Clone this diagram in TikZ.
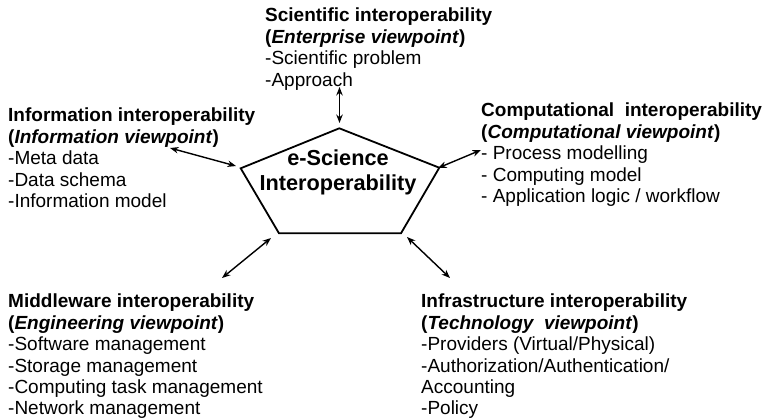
\documentclass[tikz,border=0pt]{standalone}
\usepackage{fontspec}
\setmainfont{Liberation Sans}
\usetikzlibrary{arrows.meta}
\begin{document}
\begin{tikzpicture}[x=1pt,y=1pt,
  blk/.style={anchor=north west,inner sep=0pt,align=left,font=\fontsize{19}{21.4}\selectfont},
  core/.style={anchor=north,inner sep=0pt,align=center,font=\fontsize{21.7}{25}\selectfont\bfseries},
  link/.style={line width=1.4pt,{Stealth[length=8.5pt,width=6.5pt]}-{Stealth[length=8.5pt,width=6.5pt]}},
  penta/.style={line width=1.8pt,line join=miter}]
\useasboundingbox (0,0) rectangle (771,-418);
% pentagon corners
\coordinate (pt) at (339.3,-128.3);
\coordinate (pl) at (240.7,-168.3);
\coordinate (pr) at (439.3,-167.7);
\coordinate (pbl) at (279,-233.3);
\coordinate (pbr) at (401,-233.3);
\draw[penta] (pt) -- (pr) -- (pbr) -- (pbl) -- (pl) -- cycle;
\node[core] (center) at (338,-150) {e-Science\\Interoperability};
% text blocks
\node[blk] (sci) at (265,-8) {\textbf{Scientific interoperability}\\\textbf{(\textit{Enterprise viewpoint})}\\-Scientific problem\\-Approach};
\node[blk] (info) at (8,-108) {\textbf{Information interoperability}\\\textbf{(\textit{Information viewpoint})}\\-Meta data\\-Data schema\\-Information model};
\node[blk] (comp) at (481,-103) {\textbf{Computational\ \ interoperability}\\\textbf{(\textit{Computational viewpoint})}\\- Process modelling\\- Computing model\\- Application logic / workflow};
\node[blk] (mid) at (8,-294) {\textbf{Middleware interoperability}\\\textbf{(\textit{Engineering viewpoint})}\\-Software management\\-Storage management\\-Computing task management\\-Network management};
\node[blk] (infra) at (421,-294) {\textbf{Infrastructure interoperability}\\\textbf{(\textit{Technology\ \ viewpoint})}\\-Providers (Virtual/Physical)\\-Authorization/Authentication/\\Accounting\\-Policy};
% arrow ends
\coordinate (a1) at (339.5,-87);   \coordinate (b1) at (339.5,-123);
\coordinate (a2) at (170,-148);    \coordinate (b2) at (236,-166);
\coordinate (a3) at (481,-150);    \coordinate (b3) at (438,-168);
\coordinate (a4) at (222,-278);    \coordinate (b4) at (271,-238);
\coordinate (a5) at (450,-278);    \coordinate (b5) at (407,-237);
\draw[link] (a1) -- (b1);
\draw[link] (a2) -- (b2);
\draw[link] (a3) -- (b3);
\draw[link] (a4) -- (b4);
\draw[link] (a5) -- (b5);
\end{tikzpicture}
\end{document}
